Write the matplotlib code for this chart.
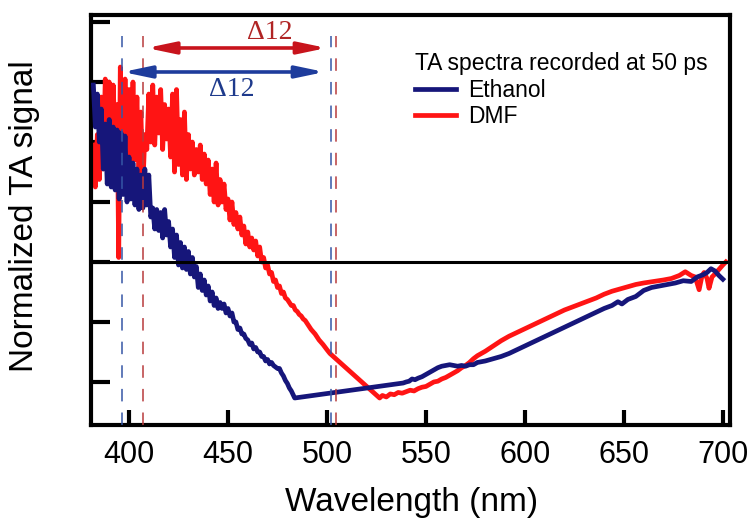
import matplotlib
matplotlib.use("Agg")
import matplotlib.pyplot as plt

plt.rcParams['font.family'] = ['Liberation Sans', 'DejaVu Sans']
plt.rcParams['lines.scale_dashes'] = False

# Transient absorption spectra at 50 ps (wavelength in nm, normalized signal)
eth_nm = [382, 383, 384, 385, 386, 387, 388, 389, 390, 391, 392, 393, 394, 395,
          396, 397, 398, 399, 400, 401, 402, 403, 404, 405, 406, 407, 408, 409,
          410, 411, 412, 413, 414, 415, 416, 417, 418, 419, 420, 421, 422, 423,
          424, 425, 426, 427, 428, 429, 430, 431, 432, 433, 434, 435, 436, 437,
          438, 439, 440, 441, 442, 443, 444, 445, 446, 447, 448, 449, 450, 451,
          452, 453, 454, 455, 456, 457, 458, 459, 460, 461, 462, 463, 464, 465,
          466, 467, 468, 469, 470, 471, 472, 473, 474, 475, 476, 477, 478, 479,
          480, 481, 482, 483.7, 538.5, 540, 541.5, 543, 544.5, 546, 548, 550,
          552, 554, 556, 558, 560, 562, 564, 566, 568, 570, 572, 574, 576, 578,
          580, 584, 588, 592, 596, 600, 604, 608, 612, 616, 620, 624, 628, 632,
          636, 640, 644, 647, 649, 652, 656, 660, 664, 668, 672, 676, 680, 684,
          687, 690, 692, 694, 696, 698, 700]
eth_signal = [1.18, 0.90, 1.12, 0.80, 1.02, 0.62, 0.92, 0.52, 0.95, 0.50, 0.90,
              0.48, 0.88, 0.42, 0.86, 0.45, 0.84, 0.40, 0.70, 0.42, 0.66, 0.38,
              0.62, 0.35, 0.58, 0.36, 0.62, 0.38, 0.58, 0.30, 0.36, 0.22, 0.35,
              0.21, 0.33, 0.16, 0.35, 0.18, 0.27, 0.10, 0.22, 0.03, 0.18, -0.02,
              0.13, -0.04, 0.10, -0.05, 0.07, -0.08, 0.03, -0.10, -0.03, -0.17,
              -0.08, -0.19, -0.12, -0.22, -0.16, -0.26, -0.20, -0.29, -0.24,
              -0.31, -0.27, -0.31, -0.28, -0.34, -0.31, -0.36, -0.34, -0.40,
              -0.40, -0.45, -0.44, -0.48, -0.48, -0.51, -0.52, -0.55, -0.54,
              -0.58, -0.57, -0.60, -0.60, -0.63, -0.63, -0.66, -0.65, -0.68,
              -0.67, -0.69, -0.70, -0.71, -0.71, -0.74, -0.76, -0.79, -0.81,
              -0.84, -0.86, -0.907, -0.807, -0.80, -0.795, -0.78, -0.785,
              -0.775, -0.765, -0.75, -0.735, -0.72, -0.705, -0.695, -0.69,
              -0.685, -0.69, -0.695, -0.69, -0.695, -0.685, -0.685, -0.67, -0.665,
              -0.66, -0.645, -0.63, -0.61, -0.585, -0.56, -0.535, -0.51, -0.485,
              -0.46, -0.435, -0.41, -0.385, -0.36, -0.335, -0.31, -0.29, -0.265,
              -0.28, -0.25, -0.23, -0.19, -0.17, -0.16, -0.15, -0.14, -0.125,
              -0.13, -0.10, -0.085, -0.07, -0.045, -0.06, -0.09, -0.115]

dmf_nm = [382, 383, 384, 385, 386, 387, 388, 389, 390, 391, 392, 393, 394, 394.8,
          395.6, 397, 398, 399, 400, 401, 402, 403, 404, 405, 406, 407, 408, 409,
          410, 411, 412, 413, 414, 415, 416, 417, 418, 419, 420, 421, 422, 423,
          424, 425, 426, 427, 428, 429, 430, 431, 432, 433, 434, 435, 436, 437,
          438, 439, 440, 441, 442, 443, 444, 445, 446, 447, 448, 449, 450, 451,
          452, 453, 454, 455, 456, 457, 458, 459, 460, 461, 462, 463, 464, 465,
          466, 467, 468, 469, 470, 471, 472, 473, 474, 475, 476, 477, 478, 479,
          480, 481, 482, 483, 484, 485, 486, 487, 488, 489, 490, 492, 494, 496,
          498, 500, 501.5, 526.6, 528, 530, 532, 534, 536, 538, 540, 542, 544,
          546, 548, 550, 552, 554, 556, 558, 560, 562, 564, 566, 568, 570, 572,
          574, 576, 578, 580, 584, 588, 592, 596, 600, 604, 608, 612, 616, 620,
          624, 628, 632, 636, 640, 644, 648, 652, 656, 660, 665, 670, 674, 678,
          681, 684, 686, 688, 689.5, 690.5, 692, 693, 694.5, 696, 698, 700, 701.5]
dmf_signal = [0.78, 0.50, 0.85, 0.55, 1.10, 0.62, 1.22, 0.70, 1.20, 0.75, 1.18,
              0.80, 1.05, 0.03, 1.30, 0.72, 1.22, 0.70, 1.15, 0.62, 1.20, 0.68,
              1.10, 0.60, 1.00, 0.50, 0.85, 0.75, 1.12, 0.80, 1.18, 0.78, 1.10,
              0.86, 1.15, 0.75, 1.05, 0.82, 1.02, 0.70, 1.12, 0.60, 1.15, 0.65,
              0.95, 0.58, 1.00, 0.55, 0.85, 0.62, 0.80, 0.58, 0.75, 0.60, 0.78,
              0.55, 0.72, 0.52, 0.68, 0.45, 0.62, 0.40, 0.66, 0.38, 0.55, 0.40,
              0.52, 0.35, 0.42, 0.28, 0.40, 0.25, 0.33, 0.22, 0.30, 0.18, 0.24,
              0.12, 0.20, 0.10, 0.16, 0.08, 0.14, 0.04, 0.10, 0.00, 0.03, -0.04,
              -0.02, -0.08, -0.07, -0.13, -0.12, -0.17, -0.16, -0.21, -0.20,
              -0.24, -0.25, -0.27, -0.29, -0.29, -0.32, -0.33, -0.35, -0.36,
              -0.38, -0.39, -0.41, -0.45, -0.48, -0.52, -0.55, -0.585, -0.61,
              -0.907, -0.89, -0.90, -0.88, -0.885, -0.87, -0.875, -0.865, -0.855,
              -0.86, -0.845, -0.835, -0.83, -0.815, -0.80, -0.795, -0.78, -0.77,
              -0.755, -0.74, -0.725, -0.705, -0.69, -0.67, -0.645, -0.625, -0.61,
              -0.595, -0.56, -0.525, -0.495, -0.47, -0.445, -0.42, -0.395, -0.37,
              -0.345, -0.32, -0.30, -0.28, -0.26, -0.24, -0.215, -0.195, -0.18,
              -0.165, -0.15, -0.14, -0.13, -0.12, -0.11, -0.09, -0.065, -0.09,
              -0.10, -0.185, -0.09, -0.07, -0.11, -0.175, -0.10, -0.08, -0.05,
              -0.02, 0.0]

series_labels = ['Ethanol', 'DMF']
legend_title = 'TA spectra recorded at 50 ps'
x_ticks = [400, 450, 500, 550, 600, 650, 700]
y_ticks = [-0.8, -0.4, 0.0, 0.4, 0.8, 1.2, 1.6]

# Band edges (nm) for each solvent and the separations between them
eth_edges = [396.5, 501.9]
dmf_edges = [407.0, 504.4]
eth_arrow = [396.8, 498.8]
dmf_arrow = [408.9, 499.8]

NAVY = '#16167a'
RED = '#ff1414'

fig = plt.figure(figsize=(7.55, 5.22), dpi=100)
ax = fig.add_axes([91 / 755, 97 / 522, 639 / 755, 410 / 522])

l_eth, = ax.plot(eth_nm, eth_signal, color=NAVY, lw=3.4, zorder=3,
                 solid_joinstyle='round')
l_dmf, = ax.plot(dmf_nm, dmf_signal, color=RED, lw=3.4, zorder=2,
                 solid_joinstyle='round')
ax.axhline(0, color='black', lw=2.2, zorder=4)

ax.set_xlim(380.8, 703.6)
ax.set_ylim(-1.087, 1.647)

# Dashed markers at the band edges
dash_top = 1.507
for x in eth_edges:
    ax.plot([x, x], [-1.087, dash_top], color='#3556a6', lw=1.1,
            dashes=(9, 8), zorder=5)
for x in dmf_edges:
    ax.plot([x, x], [-1.087, dash_top], color='#b83a3c', lw=1.1,
            dashes=(9, 8), zorder=5)

# Double-headed arrows spanning each band
ax.annotate('', xy=(dmf_arrow[0], 1.427), xytext=(dmf_arrow[1], 1.427),
            arrowprops=dict(arrowstyle='<|-|>,head_length=1.05,head_width=0.22',
                            color='#c8141c', lw=2.6, shrinkA=0, shrinkB=0,
                            mutation_scale=16), zorder=6)
ax.annotate('', xy=(eth_arrow[0], 1.267), xytext=(eth_arrow[1], 1.267),
            arrowprops=dict(arrowstyle='<|-|>,head_length=1.05,head_width=0.22',
                            color='#1e3c9c', lw=2.6, shrinkA=0, shrinkB=0,
                            mutation_scale=16), zorder=6)
ax.text(471.1, 1.527, 'Δ12', color='#b02424', fontsize=20,
        family=['Liberation Serif', 'DejaVu Serif'], ha='center', va='center')
ax.text(452.0, 1.15, 'Δ12', color='#1e3a8c', fontsize=20,
        family=['Liberation Serif', 'DejaVu Serif'], ha='center', va='center')

# Axes styling
for sp in ax.spines.values():
    sp.set_linewidth(3.0)
ax.set_xticks(x_ticks)
ax.set_yticks(y_ticks)
ax.tick_params(axis='x', direction='in', length=11, width=3, labelsize=22,
               pad=11)
ax.tick_params(axis='y', direction='in', length=14, width=3, labelleft=False)

ax.set_xlabel('Wavelength (nm)', fontsize=24)
ax.xaxis.set_label_coords(0.502, -0.19)
ax.xaxis.label.set_va('center')
ax.set_ylabel('Normalized TA signal', fontsize=24)
ax.yaxis.set_label_coords(-0.1033, 0.51)
ax.yaxis.label.set_va('center')

leg = ax.legend([l_eth, l_dmf], series_labels, title=legend_title,
                loc='upper left', bbox_to_anchor=(415 / 755, 1 - 52 / 522),
                bbox_transform=fig.transFigure, frameon=False, fontsize=16.5,
                title_fontsize=16.5, handlelength=1.8, handletextpad=0.5,
                labelspacing=0.12, borderpad=0, borderaxespad=0,
                alignment='left')
leg._legend_box.sep = 3

fig.savefig('out.png', dpi=100)
